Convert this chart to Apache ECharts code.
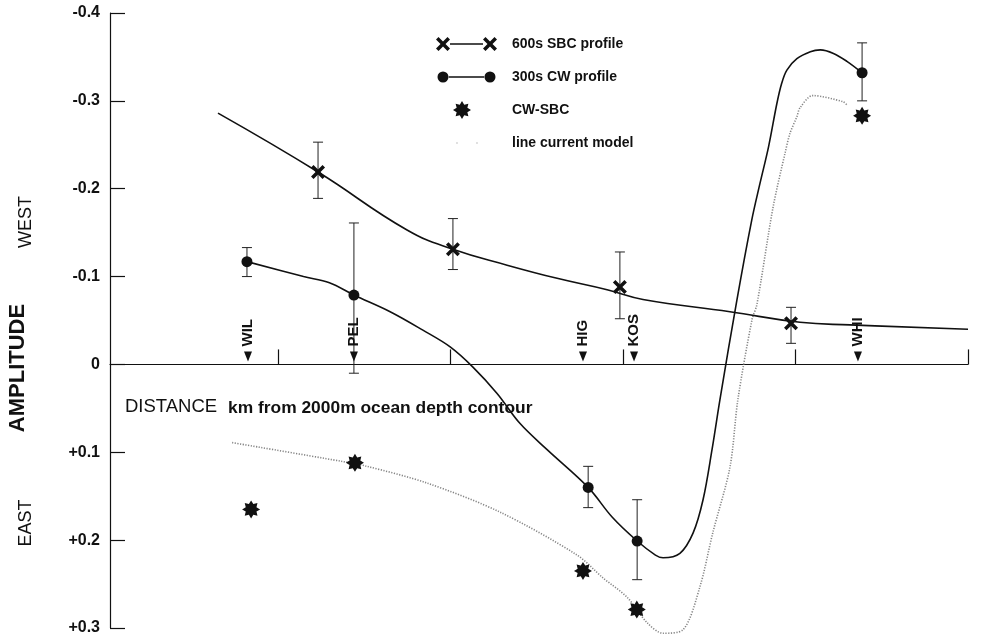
<!DOCTYPE html>
<html><head><meta charset="utf-8">
<script src="https://cdn.jsdelivr.net/npm/echarts@6/dist/echarts.min.js"></script>
<style>html,body{margin:0;padding:0;background:#fff}#c{width:994px;height:640px}</style>
</head><body><div id="c"></div>
<script>
// ---------- data ----------
const xTicks = [150, 200, 250, 300, 350];

const sbcKm   = [161.6, 200.7, 249.1, 298.7];
const sbcAmp  = [-0.219, -0.131, -0.088, -0.047];
const sbcLow  = [-0.253, -0.166, -0.128, -0.065];
const sbcHigh = [-0.189, -0.108, -0.052, -0.024];

const cwKm   = [141.0, 172.0, 239.9, 254.1, 319.3];
const cwAmp  = [-0.117, -0.079, 0.140, 0.201, -0.332];
const cwLow  = [-0.133, -0.161, 0.116, 0.154, -0.366];
const cwHigh = [-0.100, 0.010, 0.163, 0.245, -0.300];

const diffKm  = [142.2, 172.3, 238.4, 254.0, 319.3];
const diffAmp = [0.165, 0.112, 0.235, 0.279, -0.283];

const sbcCurveKm  = [132.6, 161.6, 187.4, 200.7, 216.4, 230.9, 245.4, 255.8, 281.0, 301.3, 315.8, 350.0];
const sbcCurveAmp = [-0.286, -0.219, -0.153, -0.131, -0.113, -0.098, -0.085, -0.074, -0.060, -0.048, -0.045, -0.040];

const cwCurveKm  = [141.0, 157.4, 164.9, 172.0, 182.5, 192.0, 199.9, 206.5, 213.5, 220.1, 228.0, 239.9, 246.9, 254.1, 259.4, 261.6, 266.5, 270.3, 273.2, 275.8, 278.1, 283.0, 287.3, 289.7, 292.2, 294.6, 296.0, 297.5, 300.4, 304.3, 307.2, 311.0, 314.9, 319.3];
const cwCurveAmp = [-0.117, -0.100, -0.093, -0.079, -0.060, -0.039, -0.020, 0.003, 0.033, 0.067, 0.097, 0.140, 0.174, 0.201, 0.217, 0.220, 0.215, 0.192, 0.154, 0.097, 0.040, -0.073, -0.164, -0.206, -0.248, -0.297, -0.320, -0.335, -0.348, -0.356, -0.358, -0.354, -0.345, -0.332];

const modelKm  = [136.7, 168, 175.8, 193.2, 214.3, 236.7, 244.2, 251.2, 257, 261.6, 267.4, 272.3, 276, 281, 283.3, 287.4, 288.8, 293.5, 297, 298.4, 300.4, 301.3, 305, 313.8, 315];
const modelAmp = [0.089, 0.110, 0.116, 0.135, 0.168, 0.217, 0.243, 0.265, 0.294, 0.306, 0.302, 0.253, 0.192, 0.117, 0.040, -0.051, -0.068, -0.179, -0.241, -0.263, -0.282, -0.292, -0.306, -0.299, -0.295];

const stationNames = ['WIL', 'PEL', 'HIG', 'KOS', 'WHI'];
const stationKm    = [141.3, 172.0, 238.4, 253.2, 318.1];
const stationLevel = -0.009;

// ---------- symbol shapes ----------
function xShape(cx, cy, a, k) {
  const p = [[cx-a,cy-a+k],[cx-a+k,cy-a],[cx,cy-k],[cx+a-k,cy-a],[cx+a,cy-a+k],[cx+k,cy],
             [cx+a,cy+a-k],[cx+a-k,cy+a],[cx,cy+k],[cx-a+k,cy+a],[cx-a,cy+a-k],[cx-k,cy]];
  return 'M' + p.map(q => q[0].toFixed(2) + ',' + q[1].toFixed(2)).join(' L') + ' Z ';
}
function circleShape(cx, cy, r) {
  return `M${cx-r},${cy} A${r},${r} 0 1 0 ${cx+r},${cy} A${r},${r} 0 1 0 ${cx-r},${cy} Z `;
}
function starShape(cx, cy, R, r) {
  const pts = [];
  for (let i = 0; i < 16; i++) {
    const ang = -Math.PI / 2 + i * Math.PI / 8;
    const rr = i % 2 === 0 ? R : r;
    pts.push((cx + rr * Math.cos(ang)).toFixed(2) + ',' + (cy + rr * Math.sin(ang)).toFixed(2));
  }
  return 'M' + pts.join(' L') + ' Z ';
}
function rectShape(x, y, w, h) { return `M${x},${y} L${x+w},${y} L${x+w},${y+h} L${x},${y+h} Z `; }
const box = 'M0,0 L0.01,0 Z M61,18 L60.99,18 Z ';

const crossSym = 'path://' + xShape(7, 7, 7, 2.5);
const starSym  = 'path://' + starShape(9, 9, 9, 5.8);

const legIconSBC = 'path://' + box + xShape(7, 9, 7, 2.5) + rectShape(14, 8.3, 33, 1.4) + xShape(54, 9, 7, 2.5);
const legIconCW  = 'path://' + box + circleShape(7, 9, 5.5) + rectShape(12, 8.3, 37, 1.4) + circleShape(54, 9, 5.5);
const legIconDiff = 'path://' + box + starShape(26, 9, 9, 5.8);
const legIconModel = 'path://' + box + rectShape(20.4, 8.4, 1.2, 1.2) + rectShape(40.4, 8.4, 1.2, 1.2);

const FONT = 'Liberation Sans, Arial, sans-serif';
const INK = '#111';

function errBar(params, api) {
  const x = api.value(0);
  const p1 = api.coord([x, api.value(1)]);
  const p2 = api.coord([x, api.value(2)]);
  const w = 5;
  const st = { stroke: '#222', lineWidth: 1 };
  return { type: 'group', children: [
    { type: 'line', shape: { x1: p1[0], y1: p1[1], x2: p2[0], y2: p2[1] }, style: st },
    { type: 'line', shape: { x1: p1[0]-w, y1: p1[1], x2: p1[0]+w, y2: p1[1] }, style: st },
    { type: 'line', shape: { x1: p2[0]-w, y1: p2[1], x2: p2[0]+w, y2: p2[1] }, style: st }
  ]};
}

const zip = (a, b) => a.map((v, i) => [v, b[i]]);

const chart = echarts.init(document.getElementById('c'), null, { renderer: 'canvas' });
chart.setOption({
  animation: false,
  backgroundColor: '#fff',
  textStyle: { fontFamily: FONT },
  grid: { left: 110, right: 26, top: 13, bottom: 12, containLabel: false, outerBoundsMode: 'none' },
  xAxis: {
    type: 'value', min: 101.3, max: 350.0,
    axisLine: { onZero: true, lineStyle: { color: INK, width: 1.2 } },
    axisTick: { show: true, inside: true, length: 15, customValues: xTicks, lineStyle: { color: INK, width: 1.2 } },
    axisLabel: { customValues: xTicks, color: INK, fontSize: 17, fontWeight: 'bold', margin: 11, fontFamily: FONT },
    splitLine: { show: false }
  },
  yAxis: {
    type: 'value', inverse: true, min: -0.4, max: 0.3, interval: 0.1,
    axisLine: { show: true, onZero: false, lineStyle: { color: INK, width: 1.2 } },
    axisTick: { show: true, inside: true, length: 15, lineStyle: { color: INK, width: 1.2 } },
    axisLabel: {
      color: INK, fontSize: 16, fontWeight: 'bold', margin: 10, fontFamily: FONT,
      formatter: v => Math.abs(v) < 1e-9 ? '0' : (v < 0 ? '-' : '+') + Math.abs(v).toFixed(1)
    },
    splitLine: { show: false }
  },
  legend: {
    orient: 'vertical', left: 436, top: 35, padding: 0, itemWidth: 61, itemHeight: 18, itemGap: 15,
    selectedMode: false,
    itemStyle: { borderWidth: 0 },
    textStyle: { fontSize: 14, fontWeight: 'bold', color: INK, fontFamily: FONT, padding: [0, 0, 0, 10] },
    data: [
      { name: '600s SBC profile', icon: legIconSBC, itemStyle: { color: INK, borderWidth: 0, opacity: 1 } },
      { name: '300s CW profile', icon: legIconCW, itemStyle: { color: INK, borderWidth: 0, opacity: 1 } },
      { name: 'CW-SBC', icon: legIconDiff, itemStyle: { color: INK, borderWidth: 0, opacity: 1 } },
      { name: 'line current model', icon: legIconModel, itemStyle: { color: '#999', borderWidth: 0, opacity: 1 } }
    ]
  },
  graphic: [
    { type: 'text', x: 18, y: 368, rotation: Math.PI / 2,
      style: { text: 'AMPLITUDE', font: 'bold 22px ' + FONT, fill: INK, align: 'center', verticalAlign: 'middle' } },
    { type: 'text', x: 26, y: 222, rotation: Math.PI / 2,
      style: { text: 'WEST', font: '18px ' + FONT, fill: INK, align: 'center', verticalAlign: 'middle' } },
    { type: 'text', x: 26, y: 523, rotation: Math.PI / 2,
      style: { text: 'EAST', font: '18px ' + FONT, fill: INK, align: 'center', verticalAlign: 'middle' } },
    { type: 'text', x: 125, y: 407,
      style: { text: 'DISTANCE', font: '18.5px ' + FONT, fill: INK, align: 'left', verticalAlign: 'middle' } },
    { type: 'text', x: 228, y: 408,
      style: { text: 'km from 2000m ocean depth contour', font: 'bold 17.4px ' + FONT, fill: INK, align: 'left', verticalAlign: 'middle' } }
  ],
  series: [
    { type: 'scatter', name: '600s SBC profile', z: 6, symbol: crossSym, symbolSize: 14,
      itemStyle: { color: INK, opacity: 1 }, data: zip(sbcKm, sbcAmp) },
    { type: 'scatter', name: '300s CW profile', z: 6, symbol: 'circle', symbolSize: 11,
      itemStyle: { color: INK, opacity: 1 }, data: zip(cwKm, cwAmp) },
    { type: 'scatter', name: 'CW-SBC', z: 6, symbol: starSym, symbolSize: 18,
      itemStyle: { color: INK, opacity: 1 }, data: zip(diffKm, diffAmp) },
    { type: 'line', name: 'line current model', z: 3, smooth: 0.3, symbol: 'none', clip: false,
      color: '#999', lineStyle: { color: '#858585', width: 1.6, type: [1.2, 1.5] },
      data: zip(modelKm, modelAmp) },
    { type: 'custom', name: 'sbcErr', z: 4, renderItem: errBar,
      data: sbcKm.map((k, i) => [k, sbcLow[i], sbcHigh[i]]) },
    { type: 'custom', name: 'cwErr', z: 4, renderItem: errBar,
      data: cwKm.map((k, i) => [k, cwLow[i], cwHigh[i]]) },
    { type: 'line', name: '600s SBC profile', z: 4, smooth: 0.45, symbol: 'none',
      color: INK, lineStyle: { color: INK, width: 1.6 }, data: zip(sbcCurveKm, sbcCurveAmp) },
    { type: 'line', name: '300s CW profile', z: 4, smooth: 0.35, symbol: 'none',
      color: INK, lineStyle: { color: INK, width: 1.6 }, data: zip(cwCurveKm, cwCurveAmp) },
    { type: 'scatter', name: 'stations', z: 6, symbol: 'triangle', symbolRotate: 180, symbolSize: [8, 10],
      itemStyle: { color: INK, opacity: 1 },
      label: { show: true, formatter: '{b}', position: 'top', rotate: 90, align: 'left', verticalAlign: 'middle',
               distance: 5, fontSize: 15, fontWeight: 'bold', color: INK, fontFamily: FONT },
      data: stationKm.map((k, i) => ({ name: stationNames[i], value: [k, stationLevel] })) }
  ]
});
</script>
</body></html>
